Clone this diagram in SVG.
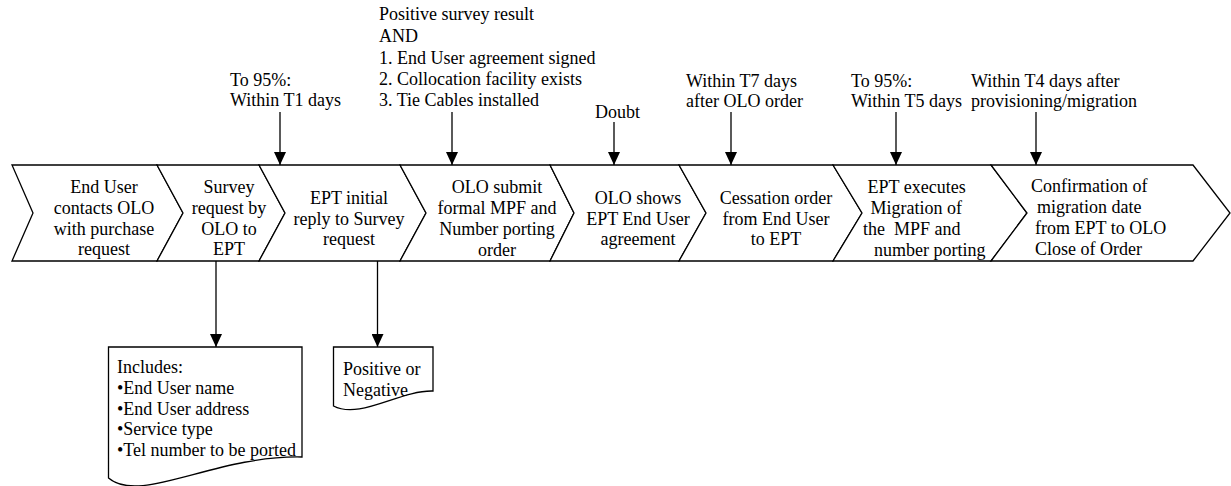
<svg xmlns="http://www.w3.org/2000/svg" width="1231" height="486" viewBox="0 0 1231 486" font-family="'Liberation Serif', 'Times New Roman', serif">
  <defs>
    <marker id="arrowhead" markerUnits="userSpaceOnUse" markerWidth="13" markerHeight="12" viewBox="0 0 13 12" refX="13" refY="6" orient="auto">
      <path d="M0,0 L13,6 L0,12 z" fill="#000"/>
    </marker>
  </defs>
  <style>
    text { font-family: 'Liberation Serif', 'Times New Roman', serif; font-size: 18px; fill: #000; }
    .mid { text-anchor: middle; }
    .pre { white-space: pre; }
    .step { fill: #fff; stroke: #000; stroke-width: 1.3; stroke-linejoin: miter; }
    .doc { fill: #fff; stroke: #000; stroke-width: 1.3; }
    .conn { stroke: #000; stroke-width: 1.3; fill: none; marker-end: url(#arrowhead); }
  </style>
  <rect width="1231" height="486" fill="#fff"/>

  <!-- process chevrons -->
  <g id="step1">
    <polygon class="step" points="12,165 157,165 183,213 157,261 12,261 33,213"/>
    <text class="mid" x="104" y="193">End User</text>
    <text class="mid" x="104" y="214">contacts OLO</text>
    <text class="mid" x="104" y="235">with purchase</text>
    <text class="mid" x="104" y="255">request</text>
  </g>
  <g id="step2">
    <polygon class="step" points="157,165 259,165 285,213 259,261 157,261 183,213"/>
    <text class="mid" x="229" y="193">Survey</text>
    <text class="mid" x="229" y="214">request by</text>
    <text class="mid" x="229" y="235">OLO to</text>
    <text class="mid" x="229" y="255">EPT</text>
  </g>
  <g id="step3">
    <polygon class="step" points="259,165 400,165 426,213 400,261 259,261 285,213"/>
    <text class="mid" x="349" y="203.5">EPT initial</text>
    <text class="mid" x="349" y="224.5">reply to Survey</text>
    <text class="mid" x="349" y="245">request</text>
  </g>
  <g id="step4">
    <polygon class="step" points="400,165 550,165 574,213 550,261 400,261 426,213"/>
    <text class="mid" x="497" y="192.5">OLO submit</text>
    <text class="mid" x="497" y="213.5">formal MPF and</text>
    <text class="mid" x="497" y="235">Number porting</text>
    <text class="mid" x="497" y="255.5">order</text>
  </g>
  <g id="step5">
    <polygon class="step" points="550,165 679,165 706,213 679,261 550,261 574,213"/>
    <text class="mid" x="638" y="203.5">OLO shows</text>
    <text class="mid" x="638" y="224.5">EPT End User</text>
    <text class="mid" x="638" y="245">agreement</text>
  </g>
  <g id="step6">
    <polygon class="step" points="679,165 833,165 862,213 833,261 679,261 706,213"/>
    <text class="mid" x="776" y="203.5">Cessation order</text>
    <text class="mid" x="776" y="224.5">from End User</text>
    <text class="mid" x="776" y="245">to EPT</text>
  </g>
  <g id="step7">
    <polygon class="step" points="833,165 991,165 1027,213 991,261 833,261 862,213"/>
    <text x="867.5" y="192.5">EPT executes</text>
    <text x="870.5" y="213.5">Migration of</text>
    <text class="pre" x="863" y="235">the  MPF and</text>
    <text x="874" y="255.5">number porting</text>
  </g>
  <g id="step8">
    <polygon class="step" points="991,165 1193,165 1230,213 1193,261 991,261 1027,213"/>
    <text x="1031" y="191.5">Confirmation of</text>
    <text x="1037" y="212.5">migration date</text>
    <text x="1035" y="234">from EPT to OLO</text>
    <text x="1035" y="255">Close of Order</text>
  </g>

  <!-- condition notes above the process -->
  <g id="note-t1">
    <text x="230" y="86">To 95%:</text>
    <text x="230" y="106">Within T1 days</text>
  </g>
  <g id="note-order">
    <text x="379" y="20">Positive survey result</text>
    <text x="379" y="42">AND</text>
    <text x="379" y="63.5">1. End User agreement signed</text>
    <text x="379" y="85">2. Collocation facility exists</text>
    <text x="379" y="106">3. Tie Cables installed</text>
  </g>
  <g id="note-doubt">
    <text x="595" y="118">Doubt</text>
  </g>
  <g id="note-t7">
    <text x="686" y="87">Within T7 days</text>
    <text x="686" y="107">after OLO order</text>
  </g>
  <g id="note-t5">
    <text x="851" y="87">To 95%:</text>
    <text x="851" y="107">Within T5 days</text>
  </g>
  <g id="note-t4">
    <text x="971" y="87">Within T4 days after</text>
    <text x="971" y="107">provisioning/migration</text>
  </g>

  <!-- output documents below the process -->
  <g id="doc-survey">
    <path class="doc" d="M108.5,347 H302 V457 C215,455 140,505 108.5,478 Z"/>
    <text x="117" y="373">Includes:</text>
    <text x="117" y="394">•End User name</text>
    <text x="117" y="414.5">•End User address</text>
    <text x="117" y="435">•Service type</text>
    <text x="117" y="456">•Tel number to be ported</text>
  </g>
  <g id="doc-reply">
    <path class="doc" d="M333.5,347 H433 V391 C400,390 360,420 333.5,406 Z"/>
    <text x="343" y="375">Positive or</text>
    <text x="343" y="396">Negative</text>
  </g>

  <!-- connectors -->
  <g id="connectors">
    <line class="conn" x1="280" y1="112" x2="280" y2="165"/>
    <line class="conn" x1="452" y1="112" x2="452" y2="165"/>
    <line class="conn" x1="614" y1="122" x2="614" y2="165"/>
    <line class="conn" x1="731" y1="112" x2="731" y2="165"/>
    <line class="conn" x1="896" y1="112" x2="896" y2="165"/>
    <line class="conn" x1="1036" y1="112" x2="1036" y2="165"/>
    <line class="conn" x1="216" y1="261" x2="216" y2="347"/>
    <line class="conn" x1="377.5" y1="261" x2="377.5" y2="347"/>
  </g>
</svg>
